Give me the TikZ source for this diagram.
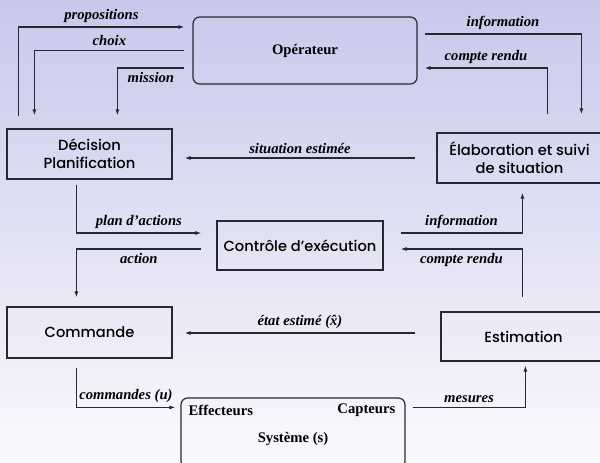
\documentclass[tikz,border=0pt]{standalone}
\usepackage{fontspec}
\setmainfont{Liberation Serif}
\newfontfamily\blocfont{Poppins Medium}
\usetikzlibrary{arrows.meta,positioning}

\def\px{0.75pt}
\definecolor{fondhaut}{RGB}{200,200,236}
\definecolor{fondbas}{RGB}{250,250,253}
\definecolor{trait}{RGB}{40,40,48}

\tikzset{
  bloc/.style={draw=trait, line width=0.9pt, inner sep=0pt, align=center,
    minimum width=165*\px, minimum height=50*\px,
    font=\blocfont\fontsize{11}{13.5}\selectfont},
  cadre/.style={draw=trait, line width=0.9pt, rounded corners=5pt, inner sep=0pt,
    minimum width=224*\px, minimum height=67*\px},
  gras/.style={font=\bfseries\fontsize{11}{13}\selectfont, inner sep=0pt},
  lbl/.style={font=\bfseries\itshape\fontsize{11}{13}\selectfont, inner sep=2pt},
  fleche/.style={draw=trait, line width=0.8pt, -{Latex[length=4.5pt,width=3pt]}}
}

\begin{document}
\begin{tikzpicture}[x=\px, y=-\px]
        \clip (0,0) rectangle (600,463);
        \shade[top color=fondhaut, bottom color=fondbas] (0,0) rectangle (600,463);

        \node[cadre, gras] at (305,50.5) (op){Opérateur};
        \node[bloc] at (89.5,154) (dec){Décision\\Planification};
        \node[bloc] at (519.5,158) (ela){Élaboration et suivi\\de situation};
        \node[bloc, minimum width=166*\px, minimum height=49*\px] at (300,245.5) (ctl){Contrôle d’exécution};
        \node[bloc, minimum height=51*\px] at (89.5,332.5) (com){Commande};
        \node[bloc, minimum height=49*\px] at (523.5,336.5) (est){Estimation};
        \node[cadre, minimum height=70*\px] at (293,433) (sys){};
        \node[gras, anchor=west] at ([shift={(8,13)}]sys.north west) (eff){Effecteurs};
        \node[gras, anchor=east] at ([shift={(-10,13)}]sys.north east) (cap){Capteurs};
        \node[gras] at ([shift={(0,42)}]sys.north) (nom){Système (s)};

        \draw[fleche] ([shift={(12,-12)}]dec.north west) |- node[lbl, above=1pt, pos=0.75] {propositions} ([shift={(-8,-23.5)}]op.west);
        \draw[fleche] ([shift={(-8,0)}]op.west) -| node[lbl, above=1pt, pos=0.25] {choix} ([shift={(28,-13)}]dec.north west);
        \draw[fleche] ([shift={(-8,17.5)}]op.west) -| node[lbl, below=1pt, pos=0.25] {mission} ([shift={(111,-13)}]dec.north west);
        \draw[fleche] ([shift={(7,-16.5)}]op.east) -| node[lbl, above=1pt, pos=0.25] {information} ([shift={(145,-18)}]ela.north west);
        \draw[fleche] ([shift={(111,-18)}]ela.north west) |- node[lbl, above=1pt, pos=0.75] {compte rendu} ([shift={(7,17.5)}]op.east);
        \draw[fleche] ([shift={(-21,0)}]ela.west) -- node[lbl, above=1pt] {situation estimée} ([shift={(12,4)}]dec.east);
        \draw[fleche] ([shift={(70,5)}]dec.south west) |- node[lbl, above=1pt, pos=0.75] {plan d’actions} ([shift={(-15,-12.5)}]ctl.west);
        \draw[fleche] ([shift={(-15,3.5)}]ctl.west) -| node[lbl, below=1pt, pos=0.25] {action} ([shift={(70,-9)}]com.north west);
        \draw[fleche] ([shift={(17,-12.5)}]ctl.east) -| node[lbl, above=1pt, pos=0.25] {information} ([shift={(86,9)}]ela.south west);
        \draw[fleche] ([shift={(82,-14)}]est.north west) |- node[lbl, below=1pt, pos=0.75] {compte rendu} ([shift={(17,3.5)}]ctl.east);
        \draw[fleche] ([shift={(-25,-3.5)}]est.west) -- node[lbl, above=1pt] {état estimé (\^{x})} ([shift={(12,0.5)}]com.east);
        \draw[fleche] ([shift={(70,9)}]com.south west) |- node[lbl, above=1pt, pos=0.75] {commandes (u)} ([shift={(-5,10)}]sys.north west);
        \draw[fleche] ([shift={(7,10)}]sys.north east) -| node[lbl, above=1pt, pos=0.25] {mesures} ([shift={(85,4)}]est.south west);
    \end{tikzpicture}
\end{document}
